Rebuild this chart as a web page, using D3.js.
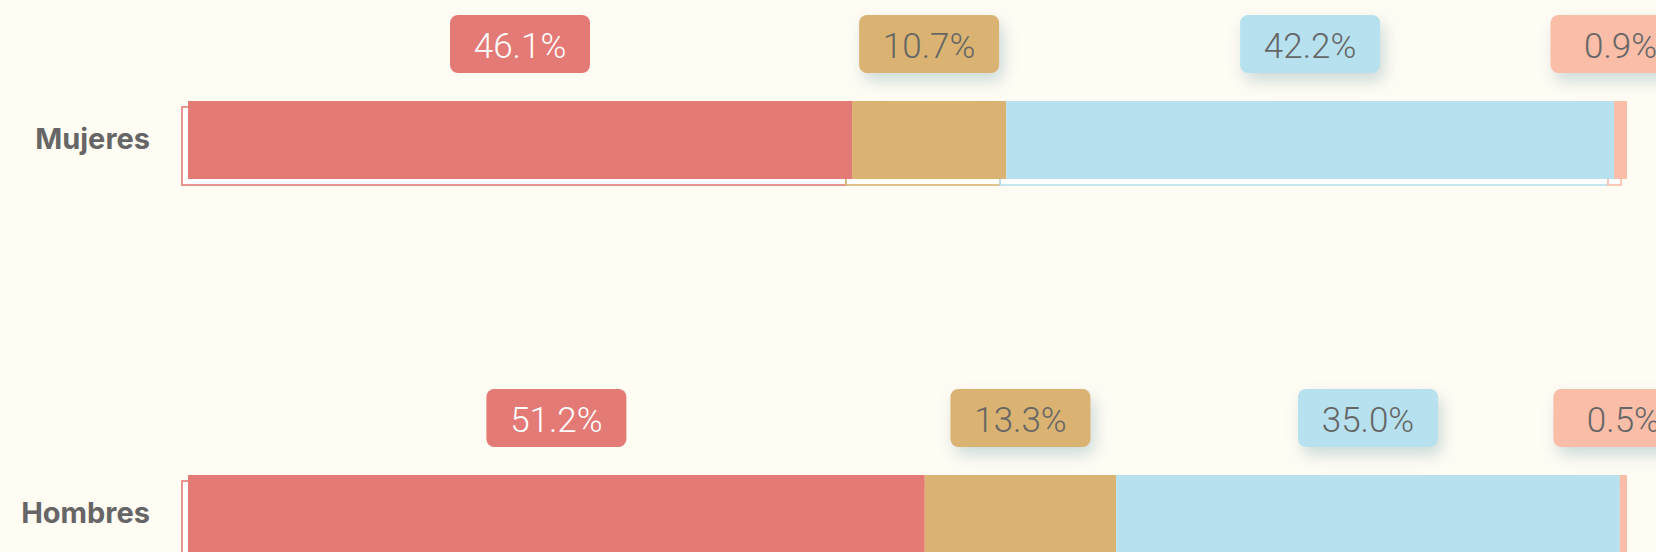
<!DOCTYPE html>
<html>
<head>
<meta charset="utf-8">
<script src="https://cdn.jsdelivr.net/npm/d3@7"></script>
<style>
  html, body { margin: 0; padding: 0; background: #fffcf3; overflow: hidden; }
  svg { display: block; }
</style>
</head>
<body>
<svg id="chart"></svg>
<script>
// categories and series
var categories = ["Mujeres", "Hombres"];
var series = ["s1", "s2", "s3", "s4"];
var mujeres = [46.1, 10.7, 42.2, 0.9];
var hombres = [51.2, 13.3, 35.0, 0.5];
var colors = ["#e47a76", "#dab372", "#b7e1ee", "#f9bda8"];
var textColors = ["#ffffff", "#666666", "#666666", "#666666"];

var rows = [mujeres, hombres];

var width = 1656, height = 760;
var svg = d3.select("#chart")
    .attr("width", width)
    .attr("height", height);

var defs = svg.append("defs");
var shadow = defs.append("filter")
    .attr("id", "shadow")
    .attr("x", "-30%").attr("y", "-40%")
    .attr("width", "170%").attr("height", "200%");
shadow.append("feDropShadow")
    .attr("dx", 4).attr("dy", 8)
    .attr("stdDeviation", 8)
    .attr("flood-color", "#7fa8b4")
    .attr("flood-opacity", 0.4);

var x = d3.scaleLinear().domain([0, 100]).range([188, 1627]);

var pad = 1 - 78 / 374;
var y = d3.scaleBand()
    .domain(categories)
    .range([101, 101 + 374 * (2 - pad)])
    .paddingInner(pad)
    .paddingOuter(0);

var offset = 6;

categories.forEach(function(cat, i) {
    var vals = rows[i];
    var total = d3.sum(vals);
    var xr = x.copy().domain([0, total]);
    var starts = d3.cumsum([0].concat(vals.slice(0, -1)));
    var segs = vals.map(function(v, j) {
        return { v: v, x0: xr(starts[j]), x1: xr(starts[j] + v), c: colors[j], t: textColors[j], j: j };
    });

    var g = svg.append("g").attr("class", "row");
    var by = y(cat), bh = y.bandwidth();

    // outline copies behind the bars
    g.selectAll("rect.outline")
        .data(segs)
        .enter().append("rect")
        .attr("class", "outline")
        .attr("x", function(d) { return d.x0 - offset; })
        .attr("y", by + offset)
        .attr("width", function(d) { return d.x1 - d.x0; })
        .attr("height", bh)
        .attr("fill", "#ffffff")
        .attr("stroke", function(d) { return d.c; })
        .attr("stroke-width", 1.6);

    g.selectAll("rect.seg")
        .data(segs)
        .enter().append("rect")
        .attr("class", "seg")
        .attr("x", function(d) { return d.x0; })
        .attr("y", by)
        .attr("width", function(d) { return d.x1 - d.x0; })
        .attr("height", bh)
        .attr("fill", function(d) { return d.c; });

    // category label
    g.append("text")
        .attr("x", 150)
        .attr("y", by + bh / 2 - 2)
        .attr("text-anchor", "end")
        .attr("dominant-baseline", "central")
        .attr("font-family", "Inter, 'Noto Sans', sans-serif")
        .attr("font-weight", 700)
        .attr("font-size", 29)
        .attr("fill", "#666666")
        .text(cat);

    // value badges
    var bw = 140, bhh = 58;
    var badge = g.selectAll("g.badge")
        .data(segs)
        .enter().append("g")
        .attr("class", "badge")
        .attr("transform", function(d) {
            return "translate(" + ((d.x0 + d.x1) / 2 - bw / 2) + "," + (by - 28 - bhh) + ")";
        });

    badge.append("rect")
        .attr("width", bw)
        .attr("height", bhh)
        .attr("rx", 8)
        .attr("fill", function(d) { return d.c; })
        .attr("filter", function(d) { return d.j > 0 ? "url(#shadow)" : null; });

    badge.append("text")
        .attr("x", bw / 2)
        .attr("y", bhh / 2 + 2)
        .attr("text-anchor", "middle")
        .attr("dominant-baseline", "central")
        .attr("font-family", "Roboto, sans-serif")
        .attr("font-weight", 300)
        .attr("font-size", 35)
        .attr("fill", function(d) { return d.t; })
        .text(function(d) { return d3.format(".1f")(d.v) + "%"; });
});
</script>
</body>
</html>
